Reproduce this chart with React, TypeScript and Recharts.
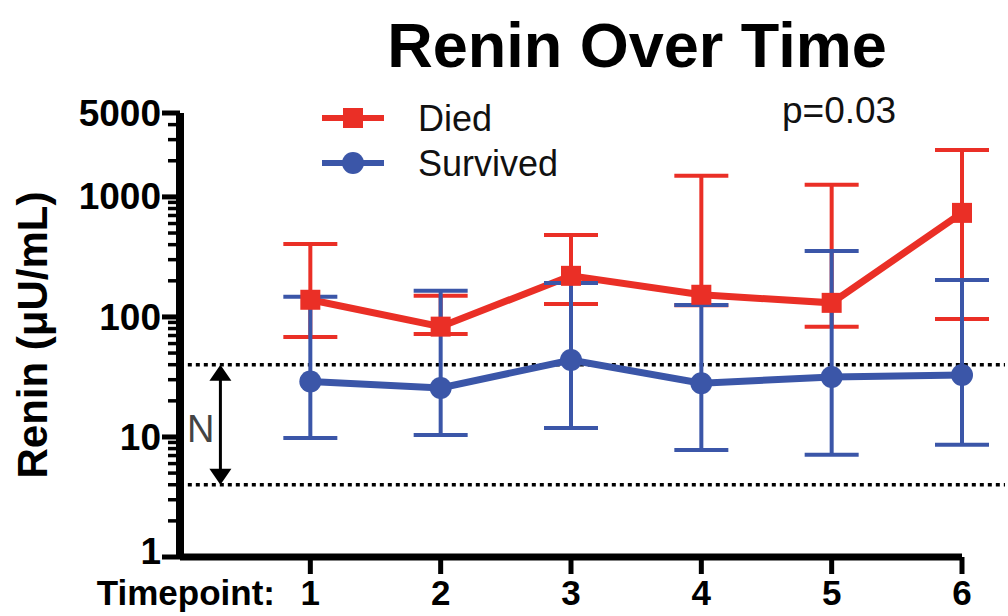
import React from "react";
import { LineChart, Line, XAxis, YAxis, ErrorBar, ReferenceLine, Legend } from "recharts";

const timepoints = [1, 2, 3, 4, 5, 6];
const diedMean = [139, 83, 220, 153, 131, 736];
const diedLow = [68, 72, 128, 125, 83, 96];
const diedHigh = [406, 150, 482, 1500, 1260, 2460];
const survivedMean = [29, 25.6, 43.8, 28, 31.6, 32.8];
const survivedLow = [9.8, 10.4, 11.9, 7.8, 7.1, 8.6];
const survivedHigh = [147, 165, 192, 126, 355, 203];
const yMajorTicks = [1, 10, 100, 1000, 5000];
const normalRange = [4, 40];

const RED = "#ea2f26";
const BLUE = "#3b56a8";
const FONT = "'Liberation Sans', Arial, Helvetica, sans-serif";

const data = timepoints.map((t, i) => ({
  t,
  died: diedMean[i],
  diedErr: [diedMean[i] - diedLow[i], diedHigh[i] - diedMean[i]],
  survived: survivedMean[i],
  survivedErr: [survivedMean[i] - survivedLow[i], survivedHigh[i] - survivedMean[i]],
}));

// log ticks: 1..9 per decade up to 5000
const yTicks: number[] = [];
for (const d of [1, 10, 100, 1000]) {
  for (let k = 1; k <= 9; k++) if (k * d <= 5000) yTicks.push(k * d);
}

const YTick = (props: any) => {
  const { x, y, payload } = props;
  const major = yMajorTicks.includes(payload.value);
  // the bottom label sits a little higher so it clears the x axis caption
  const ly = payload.value === 1 ? y - 6 : y;
  return (
    <g>
      <line x1={x} x2={x - (major ? 18 : 12)} y1={y} y2={y} stroke="#000" strokeWidth={major ? 5 : 3.5} />
      {major && (
        <text x={x - 19} y={ly} dy="0.34em" textAnchor="end" fontSize={37} fontWeight="bold" fontFamily={FONT} fill="#000">
          {payload.value}
        </text>
      )}
    </g>
  );
};

const XTick = (props: any) => {
  const { x, y, payload } = props;
  return (
    <g>
      <line x1={x} x2={x} y1={y} y2={y + 17} stroke="#000" strokeWidth={5} />
      <text x={x} y={y + 48} textAnchor="middle" fontSize={35} fontWeight="bold" fontFamily={FONT} fill="#000">
        {payload.value}
      </text>
    </g>
  );
};

const SquareDot = (props: any) => {
  const { cx, cy, index } = props;
  return <rect key={`d${index}`} x={cx - 10} y={cy - 10} width={20} height={20} fill={RED} />;
};

const CircleDot = (props: any) => {
  const { cx, cy, index } = props;
  return <circle key={`s${index}`} cx={cx} cy={cy} r={11} fill={BLUE} />;
};

const ArrowShape = (props: any) => {
  const { x1, y1, x2, y2 } = props;
  const top = Math.min(y1, y2);
  const bot = Math.max(y1, y2);
  return (
    <g>
      <line x1={x1} x2={x2} y1={top + 12} y2={bot - 12} stroke="#000" strokeWidth={3} />
      <polygon points={`${x1},${top} ${x1 - 11},${top + 16} ${x1 + 11},${top + 16}`} fill="#000" />
      <polygon points={`${x1},${bot} ${x1 - 11},${bot - 16} ${x1 + 11},${bot - 16}`} fill="#000" />
      <text x={x1 - 6} y={(top + bot) / 2 + 4} dy="0.36em" textAnchor="end" fontSize={38} fontFamily={FONT} fill="#444">
        N
      </text>
    </g>
  );
};

const LegendContent = (props: any) => {
  const items = props.payload || [];
  return (
    <svg width={300} height={100}>
      {items.map((it: any, i: number) => {
        const cy = 22 + i * 45;
        const isDied = it.value === "Died";
        return (
          <g key={it.value}>
            <line x1={8} x2={70} y1={cy} y2={cy} stroke={it.color} strokeWidth={6} />
            {isDied ? (
              <rect x={29} y={cy - 10} width={20} height={20} fill={it.color} />
            ) : (
              <circle cx={39} cy={cy} r={11} fill={it.color} />
            )}
            <text x={104} y={cy} dy="0.36em" fontSize={36} fontFamily={FONT} fill="#111">
              {it.value}
            </text>
          </g>
        );
      })}
    </svg>
  );
};

export default function App() {
  return (
    <div style={{ position: "absolute", left: 0, top: 0, background: "#fff" }}>
      <LineChart width={1008} height={616} data={data} margin={{ top: 113, right: 46, left: 20, bottom: 0 }}>
        <text x={637} y={67} textAnchor="middle" fontSize={63} fontWeight="bold" fontFamily={FONT} fill="#000">
          Renin Over Time
        </text>
        <text x={782} y={123} fontSize={37} fontFamily={FONT} fill="#111">
          p=0.03
        </text>
        <XAxis
          dataKey="t"
          type="number"
          domain={[0, 6]}
          ticks={timepoints}
          height={59}
          tickSize={0}
          tickMargin={0}
          tickLine={false}
          tick={<XTick />}
          axisLine={{ stroke: "#000", strokeWidth: 7 }}
          interval={0}
          label={(p: any) => {
            const vb = p.viewBox || {};
            return (
              <text x={(vb.x ?? 180) + 95} y={(vb.y ?? 557) + 48} textAnchor="end" fontSize={35} fontWeight="bold" fontFamily={FONT} fill="#000">
                Timepoint:
              </text>
            );
          }}
        />
        <YAxis
          scale="log"
          domain={[1, 5000]}
          allowDataOverflow
          ticks={yTicks}
          interval={0}
          width={160}
          tickSize={0}
          tickMargin={0}
          tickLine={false}
          tick={<YTick />}
          axisLine={{ stroke: "#000", strokeWidth: 8 }}
          label={() => {
            const cx = 32;
            const cy = 335;
            return (
              <text x={cx} y={cy} transform={`rotate(-90 ${cx} ${cy})`} dy="0.36em" textAnchor="middle" fontSize={42} fontWeight="bold" fontFamily={FONT} fill="#000">
                Renin (μU/mL)
              </text>
            );
          }}
        />
        {normalRange.map((v) => (
          <ReferenceLine
            key={v}
            segment={[{ x: 0.06, y: v }, { x: 6.33, y: v }]}
            ifOverflow="visible"
            stroke="#000"
            strokeWidth={3.5}
            strokeDasharray="4 4"
          />
        ))}
        <ReferenceLine
          segment={[{ x: 0.31, y: normalRange[0] }, { x: 0.31, y: normalRange[1] }]}
          ifOverflow="visible"
          shape={<ArrowShape />}
        />
        <Legend
          layout="vertical"
          align="center"
          verticalAlign="middle"
          wrapperStyle={{ position: "absolute", left: 314, top: 96, width: 300, height: 100 }}
          content={<LegendContent />}
        />
        <Line
          dataKey="died"
          name="Died"
          stroke={RED}
          strokeWidth={7}
          dot={<SquareDot />}
          activeDot={false}
          isAnimationActive={false}
        >
          <ErrorBar dataKey="diedErr" direction="y" width={27} strokeWidth={4} stroke={RED} isAnimationActive={false} />
        </Line>
        <Line
          dataKey="survived"
          name="Survived"
          stroke={BLUE}
          strokeWidth={7}
          dot={<CircleDot />}
          activeDot={false}
          isAnimationActive={false}
        >
          <ErrorBar dataKey="survivedErr" direction="y" width={27} strokeWidth={4} stroke={BLUE} isAnimationActive={false} />
        </Line>
      </LineChart>
    </div>
  );
}
